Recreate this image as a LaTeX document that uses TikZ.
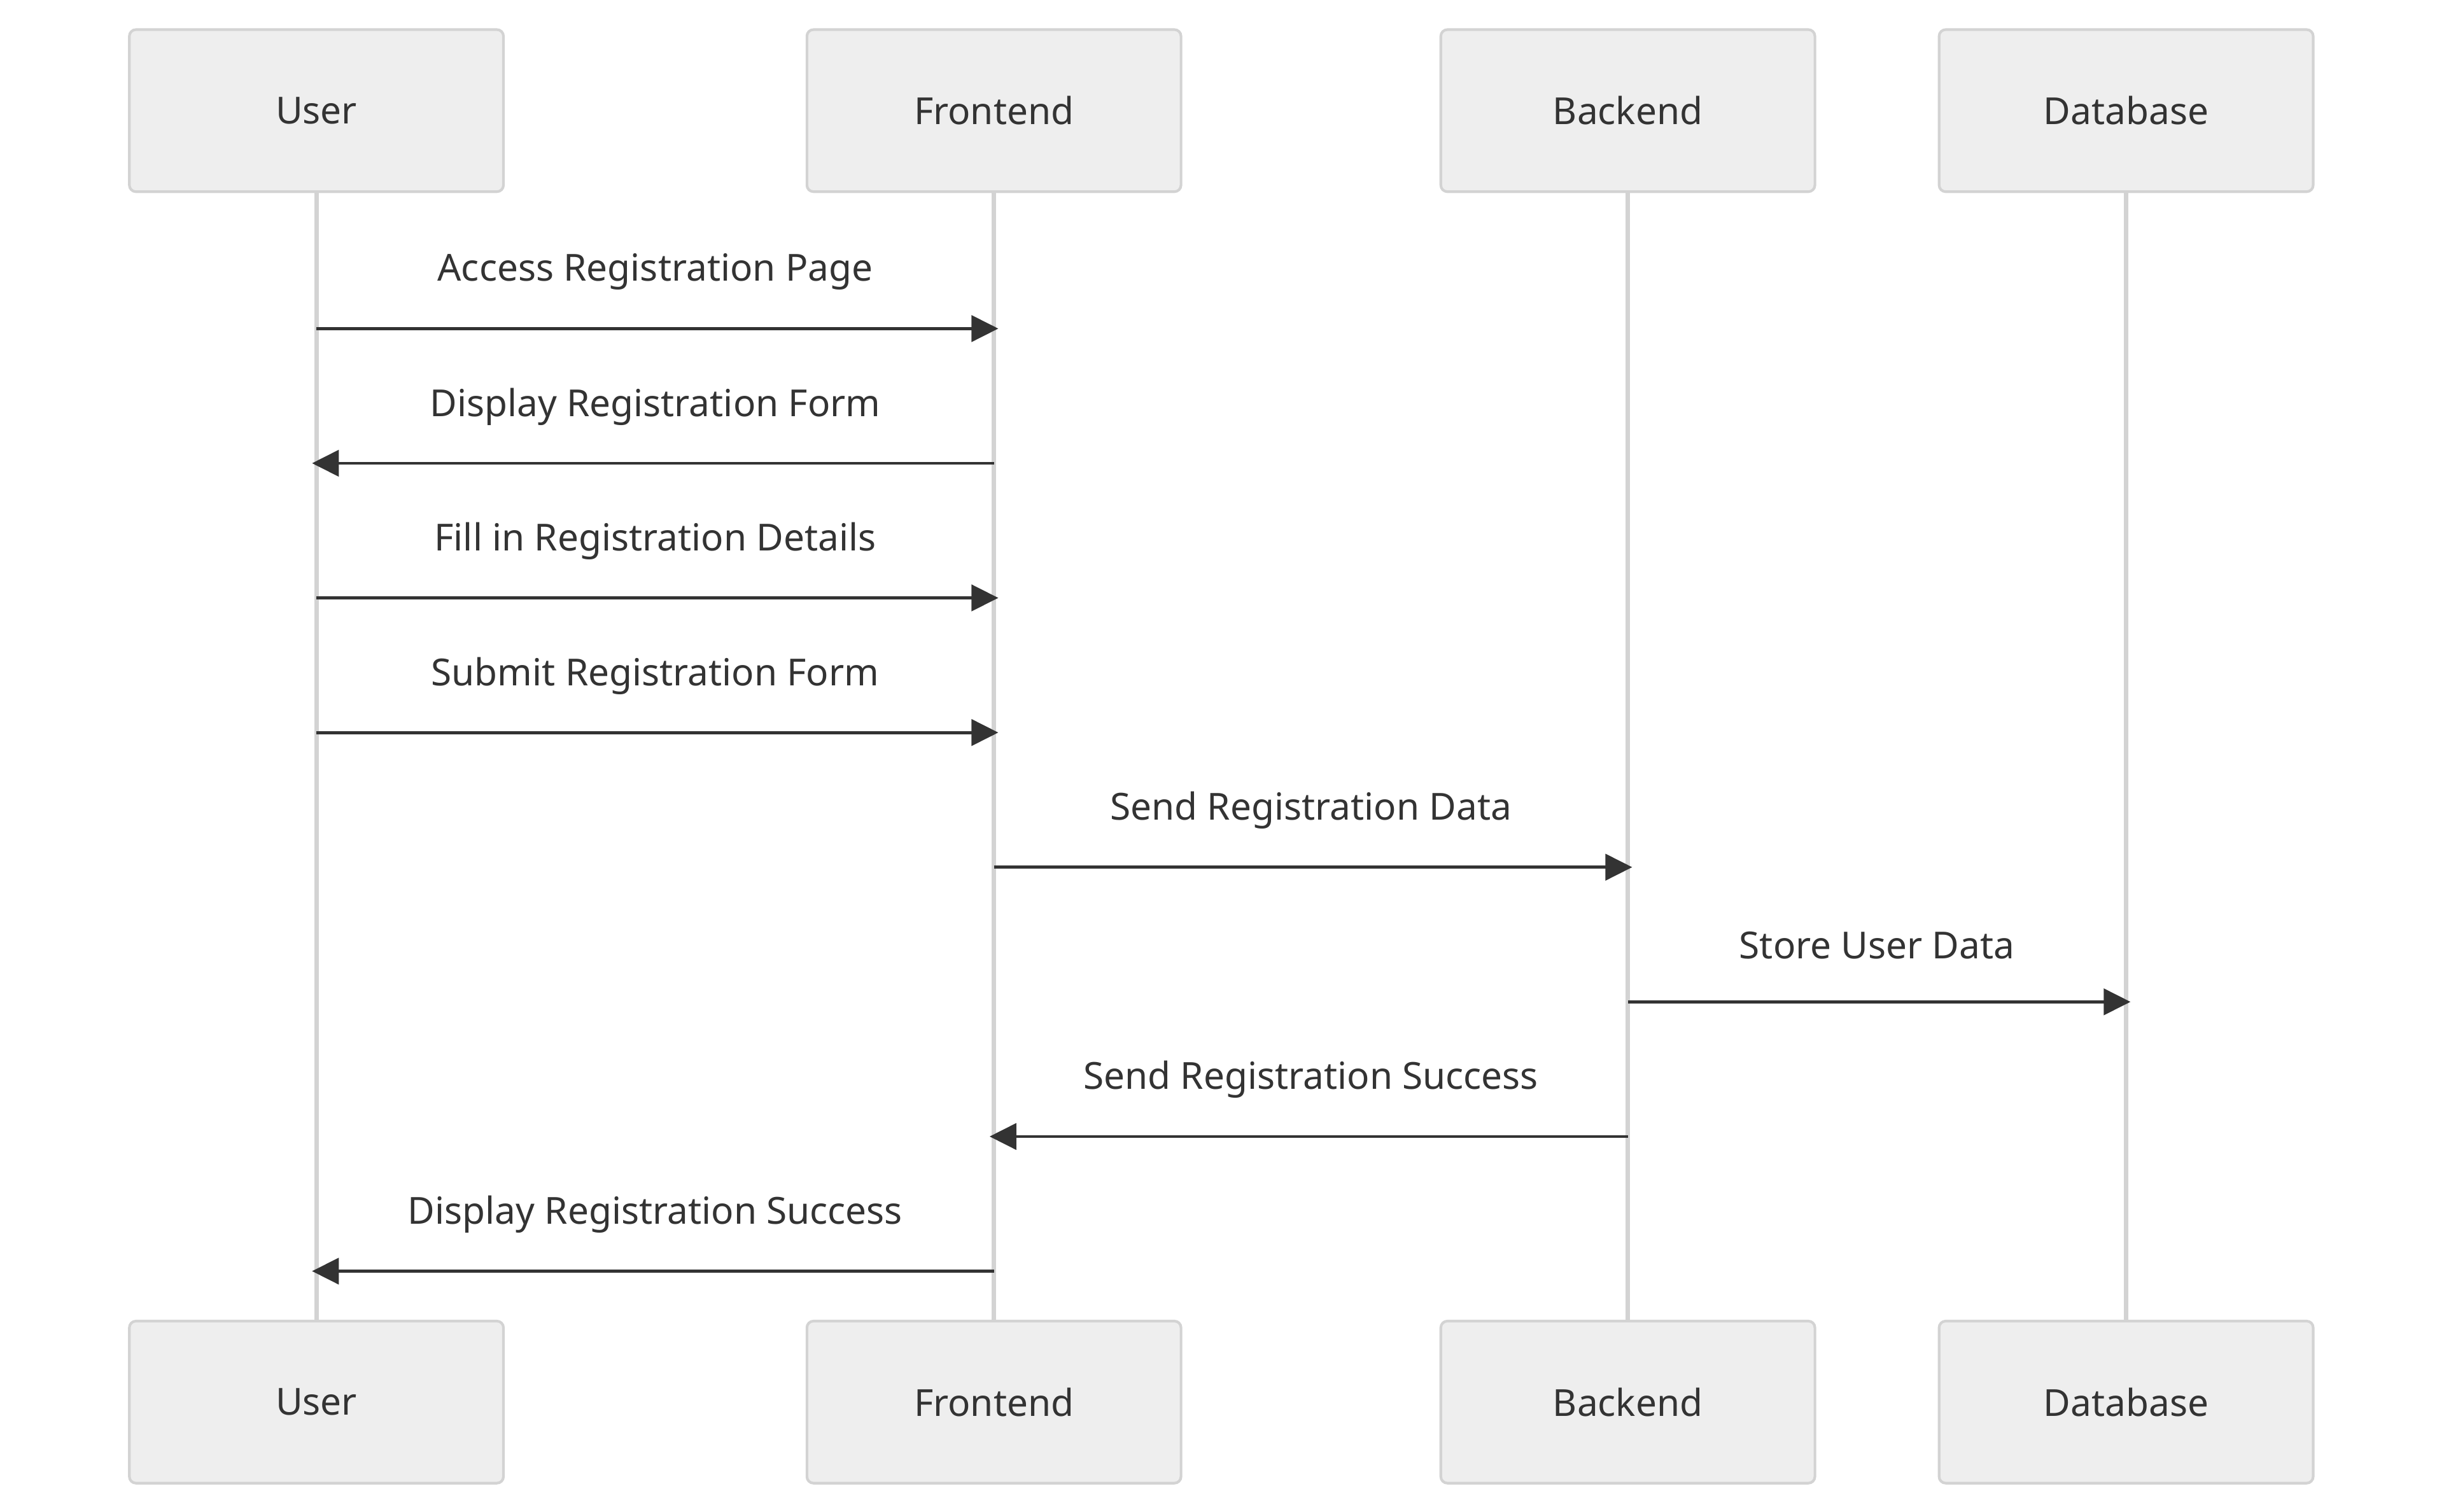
\documentclass[tikz,border=0pt]{standalone}
\usepackage{fontspec}
\setmainfont{Noto Sans}
\usetikzlibrary{arrows.meta, positioning}
\usepackage{xcolor}
\definecolor{seqtext}{HTML}{333333}
\definecolor{seqfill}{HTML}{EEEEEE}
\definecolor{seqedge}{HTML}{D3D3D3}

\begin{document}
\begin{tikzpicture}[
    font=\fontsize{17}{20}\selectfont,
    actor/.style={draw=seqedge, fill=seqfill, rounded corners=3pt, line width=1.2pt,
                  minimum width=6cm, minimum height=2.6cm, text=seqtext, inner sep=0pt},
    life/.style={seqedge, line width=2pt},
    msg/.style={-{Triangle[length=0.43cm, width=0.42cm]}, seqtext, line width=1.4pt,
                shorten >=-0.07cm},
    lbl/.style={text=seqtext, yshift=0.91cm},
  ]
    \useasboundingbox (0,0) rectangle (39.2,-24.25);

    % participants (top)
    \node[actor] (user) at (5.075,-1.775) {User};
    \node[actor, right=4.825cm of user]  (front) {Frontend};
    \node[actor, right=4.125cm of front] (back)  {Backend};
    \node[actor, right=1.95cm of back]   (db)    {Database};

    % participants (bottom)
    \node[actor, below=18.075cm of user]  (userb)  {User};
    \node[actor, below=18.075cm of front] (frontb) {Frontend};
    \node[actor, below=18.075cm of back]  (backb)  {Backend};
    \node[actor, below=18.075cm of db]    (dbb)    {Database};

    % lifelines
    \draw[life] (user)  -- (userb);
    \draw[life] (front) -- (frontb);
    \draw[life] (back)  -- (backb);
    \draw[life] (db)    -- (dbb);

    % message levels
    \coordinate (m1) at ([yshift=-2.175cm]user.south);
    \coordinate[below=2.16cm of m1] (m2);
    \coordinate[below=2.16cm of m2] (m3);
    \coordinate[below=2.16cm of m3] (m4);
    \coordinate[below=2.16cm of m4] (m5);
    \coordinate[below=2.16cm of m5] (m6);
    \coordinate[below=2.16cm of m6] (m7);
    \coordinate[below=2.16cm of m7] (m8);

    \draw[msg] (user |- m1)  -- node[lbl]{Access Registration Page} (front |- m1);
    \draw[msg] (front |- m2) -- node[lbl]{Display Registration Form} (user |- m2);
    \draw[msg] (user |- m3)  -- node[lbl]{Fill in Registration Details} (front |- m3);
    \draw[msg] (user |- m4)  -- node[lbl]{Submit Registration Form} (front |- m4);
    \draw[msg] (front |- m5) -- node[lbl]{Send Registration Data} (back |- m5);
    \draw[msg] (back |- m6)  -- node[lbl]{Store User Data} (db |- m6);
    \draw[msg] (back |- m7)  -- node[lbl]{Send Registration Success} (front |- m7);
    \draw[msg] (front |- m8) -- node[lbl]{Display Registration Success} (user |- m8);
  \end{tikzpicture}
\end{document}
